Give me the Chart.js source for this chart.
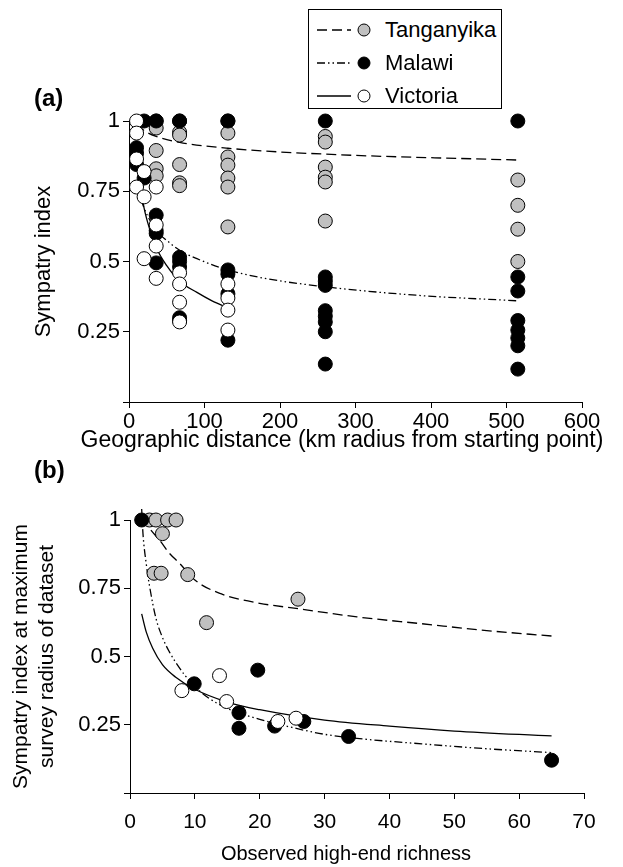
<!DOCTYPE html>
<html>
<head>
<meta charset="utf-8">
<script src="https://cdn.jsdelivr.net/npm/chart.js@4"></script>
<style>
body{margin:0;background:#fff;width:623px;height:867px;position:relative;overflow:hidden;font-family:"Liberation Sans",Arial,sans-serif;color:#000;}
#wa{position:absolute;left:0;top:0;width:623px;height:460px;}
#wb{position:absolute;left:0;top:460px;width:623px;height:407px;}
.lbl{position:absolute;font-weight:bold;font-size:24px;line-height:28px;}
.xt{position:absolute;white-space:nowrap;transform:translateX(-50%);}
#legend{position:absolute;left:308px;top:9px;width:194px;height:100px;border:1px solid #000;box-sizing:border-box;background:#fff;}
.row{position:absolute;left:0;height:30px;display:flex;align-items:center;font-size:22px;white-space:nowrap;}
.row svg{display:block;}
</style>
</head>
<body>
<div id="wa"><canvas id="ca"></canvas></div>
<div id="wb"><canvas id="cb"></canvas></div>
<div class="lbl" style="left:34px;top:84px">(a)</div>
<div class="lbl" style="left:34px;top:456px">(b)</div>
<div class="xt" style="left:342px;top:425px;font-size:23px;line-height:28px">Geographic distance (km radius from starting point)</div>
<div class="xt" style="left:346px;top:841px;font-size:20px;line-height:24px">Observed high-end richness</div>
<div id="legend"></div>
<script>
// ---- panel (a): sympatry index vs geographic distance ----
const distanceKm = [10, 20, 36, 67, 131, 260, 515];
// values per distance column
const tanganyikaA = [[], [], [1, 0.975, 0.895, 0.83, 0.805], [1, 0.96, 0.95, 0.845, 0.78, 0.77],
  [1, 0.957, 0.872, 0.843, 0.797, 0.765, 0.623], [0.945, 0.925, 0.836, 0.8, 0.783, 0.644], [0.79, 0.7, 0.615, 0.5]];
const malawiA = [[0.905, 0.885, 0.845], [1, 0.797], [1, 0.665, 0.61, 0.6, 0.495], [1, 0.515, 0.5, 0.48, 0.3, 0.29],
  [1, 0.47, 0.455, 0.385, 0.22], [1, 0.445, 0.43, 0.415, 0.325, 0.305, 0.285, 0.25, 0.135],
  [1, 0.445, 0.395, 0.29, 0.256, 0.228, 0.2, 0.117]];
const victoriaA = [[1, 0.957, 0.865, 0.765], [0.82, 0.73, 0.51], [0.765, 0.63, 0.555, 0.44],
  [0.46, 0.42, 0.355, 0.285], [0.42, 0.37, 0.327, 0.256], [], []];
// fitted curves
const fitTangA_km = [10, 20, 36, 67, 131, 260, 515];
const fitTangA_si = [0.99, 0.966, 0.945, 0.924, 0.903, 0.882, 0.861];
const fitMalA_km = [10, 15, 20, 28, 36, 50, 67, 90, 131, 180, 260, 380, 515];
const fitMalA_si = [0.79, 0.73, 0.69, 0.645, 0.61, 0.575, 0.54, 0.51, 0.47, 0.44, 0.41, 0.38, 0.36];
const fitVicA_km = [10, 15, 20, 28, 36, 50, 67, 90, 110, 131];
const fitVicA_si = [0.9, 0.77, 0.69, 0.61, 0.55, 0.485, 0.43, 0.39, 0.36, 0.335];

// ---- panel (b): sympatry index at max radius vs observed richness ----
const tangB_rich = [3, 4, 5.8, 7.1, 5.0, 3.7, 4.8, 8.9, 25.9, 11.8];
const tangB_si = [1, 1, 1, 1, 0.95, 0.805, 0.805, 0.8, 0.71, 0.624];
const malB_rich = [1.8, 19.7, 9.9, 16.8, 16.8, 22.3, 26.8, 33.7, 65];
const malB_si = [1, 0.45, 0.4, 0.294, 0.237, 0.245, 0.262, 0.207, 0.12];
const vicB_rich = [13.8, 8.0, 14.9, 22.8, 25.6];
const vicB_si = [0.43, 0.375, 0.335, 0.262, 0.274];
const fitTangB_rich = [2, 3, 4.6, 6, 7.7, 10, 14, 20, 26, 35, 45, 55, 65];
const fitTangB_si = [1.01, 0.97, 0.925, 0.88, 0.84, 0.78, 0.73, 0.695, 0.675, 0.645, 0.62, 0.595, 0.575];
const fitMalB_rich = [1.8, 2, 2.5, 3, 4, 5, 6, 7, 8.5, 10, 12, 15, 20, 25, 30, 35, 45, 55, 65];
const fitMalB_si = [1.04, 0.95, 0.84, 0.76, 0.64, 0.57, 0.52, 0.48, 0.43, 0.39, 0.35, 0.31, 0.27, 0.24, 0.215, 0.2, 0.18, 0.162, 0.148];
const fitVicB_rich = [1.8, 2.5, 3.5, 5, 7, 10, 15, 20, 30, 40, 50, 65];
const fitVicB_si = [0.656, 0.59, 0.53, 0.47, 0.425, 0.38, 0.333, 0.305, 0.267, 0.245, 0.227, 0.209];

const FONT = '"Liberation Sans", Arial, sans-serif';
const lakes = [
  {name: 'Tanganyika', fill: '#c0c0c0', dash: [10, 5]},
  {name: 'Malawi', fill: '#000000', dash: [8, 3, 1.5, 3, 1.5, 3]},
  {name: 'Victoria', fill: '#ffffff', dash: []}
];

function zip(xs, ys){ return xs.map((x, i) => ({x: x, y: ys[i]})); }
function columns(cols){
  var out = [];
  cols.forEach((vals, i) => vals.forEach(v => out.push({x: distanceKm[i], y: v})));
  return out;
}
function pts(lake, data, order){
  return {type: 'scatter', data: data, backgroundColor: lake.fill, borderColor: '#000', borderWidth: 1,
    pointRadius: 7, pointHoverRadius: 7, clip: false, order: order};
}
function fit(lake, data){
  return {type: 'line', data: data, borderColor: '#000', borderWidth: 1.3, borderDash: lake.dash,
    pointRadius: 0, fill: false, cubicInterpolationMode: 'monotone', clip: false, order: 9};
}
function axis(min, max, step, title, o){
  return {
    type: 'linear', min: min, max: max,
    ticks: {stepSize: step, color: '#000', font: {family: FONT, size: o.tick}, padding: o.tpad, maxRotation: 0,
      callback: o.hideZero ? (v => v === 0 ? '' : String(v)) : (v => String(v))},
    grid: {display: true, drawOnChartArea: false, drawTicks: true, tickLength: 6, color: '#000'},
    border: {display: true, color: '#000', width: 1},
    title: {display: !!title, text: title || '', color: '#000', font: {family: FONT, size: o.title || 12}, padding: o.titlePad},
    afterFit: o.fit
  };
}

new Chart(document.getElementById('ca'), {
  data: {datasets: [
    pts(lakes[2], columns(victoriaA), 1),
    pts(lakes[1], columns(malawiA), 2),
    pts(lakes[0], columns(tanganyikaA), 3),
    fit(lakes[0], zip(fitTangA_km, fitTangA_si)),
    fit(lakes[1], zip(fitMalA_km, fitMalA_si)),
    fit(lakes[2], zip(fitVicA_km, fitVicA_si))
  ]},
  options: {
    responsive: true, maintainAspectRatio: false, animation: false,
    layout: {padding: {top: 121, right: 41, left: 0, bottom: 0}},
    plugins: {legend: {display: false}, tooltip: {enabled: false}},
    scales: {
      x: axis(0, 600, 100, null, {tick: 22, tpad: 1, fit: s => { s.height = 58; }}),
      y: axis(0, 1, 0.25, 'Sympatry index',
        {tick: 22, tpad: 3, title: 22, titlePad: {top: 31, bottom: 0}, hideZero: true, fit: s => { s.width = 129; }})
    }
  }
});

new Chart(document.getElementById('cb'), {
  data: {datasets: [
    pts(lakes[2], zip(vicB_rich, vicB_si), 1),
    pts(lakes[1], zip(malB_rich, malB_si), 2),
    pts(lakes[0], zip(tangB_rich, tangB_si), 3),
    fit(lakes[0], zip(fitTangB_rich, fitTangB_si)),
    fit(lakes[1], zip(fitMalB_rich, fitMalB_si)),
    fit(lakes[2], zip(fitVicB_rich, fitVicB_si))
  ]},
  options: {
    responsive: true, maintainAspectRatio: false, animation: false,
    layout: {padding: {top: 60, right: 39, left: 0, bottom: 0}},
    plugins: {legend: {display: false}, tooltip: {enabled: false}},
    scales: {
      x: axis(0, 70, 10, null, {tick: 21, tpad: 11, fit: s => { s.height = 74; }}),
      y: axis(0, 1, 0.25, ['Sympatry index at maximum', 'survey radius of dataset'],
        {tick: 22, tpad: 3, title: 21, titlePad: {top: 9, bottom: 0}, hideZero: true, fit: s => { s.width = 130; }})
    }
  }
});

// legend box: line sample + marker + name
(function(){
  var box = document.getElementById('legend');
  var tops = [5, 38, 71];
  lakes.forEach(function(l, i){
    var row = document.createElement('div');
    row.className = 'row';
    row.style.top = tops[i] + 'px';
    row.innerHTML = '<svg width="76" height="30"><line x1="8" y1="15" x2="42" y2="15" stroke="#000" stroke-width="1.3"' +
      (l.dash.length ? ' stroke-dasharray="' + l.dash.join(',') + '"' : '') + '/>' +
      '<circle cx="55" cy="15" r="6" fill="' + l.fill + '" stroke="#000" stroke-width="1"/></svg><span>' + l.name + '</span>';
    box.appendChild(row);
  });
})();
</script>
</body>
</html>
